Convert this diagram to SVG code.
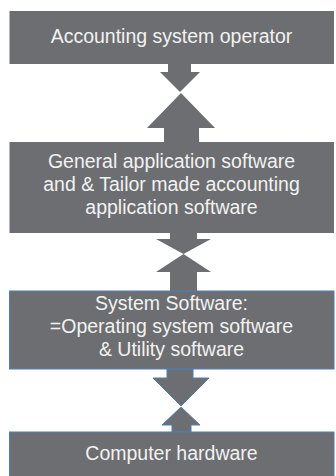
<svg xmlns="http://www.w3.org/2000/svg" width="336" height="476" viewBox="0 0 336 476">
<style>
.box{fill:#6d6e71;}
.bbox{fill:#6d6e71;stroke:#4f7fb5;stroke-width:1;}
.arr{fill:#6d6e71;}
.barr{fill:#6d6e71;stroke:#4f7fb5;stroke-width:1;}
text{font-family:"Liberation Sans",Arial,sans-serif;font-size:19.5px;fill:#f2f2f2;text-anchor:middle;}
</style>
<rect width="336" height="476" fill="#ffffff"/>
<g id="connectors">
<polygon class="arr" points="168,64 191,64 191,72 200,72 180,92 160,72 168,72"/>
<polygon class="arr" points="181,93 215,128 199,128 199,142 164,142 164,128 147,128"/>
<polygon class="arr" points="170,233 197,233 197,239 211,239 183.5,254 156,239 170,239"/>
<polygon class="arr" points="183.5,254 211,272 197,272 197,291 170,291 170,272 156,272"/>
<polygon class="barr" points="167,369 193,369 193,378 209,378 181,406 153,378 167,378"/>
<polygon class="barr" points="181,407 200,425 191,425 191,432 172,432 172,425 162,425"/>
</g>
<g id="n1">
<rect class="box" x="9.5" y="11" width="324.5" height="53"/>
<text x="171.5" y="42.5">Accounting system operator</text>
</g>
<g id="n2">
<rect class="box" x="9.5" y="142" width="324.5" height="91"/>
<text x="171.5" y="167.5">General application software</text>
<text x="171.5" y="190.5">and &amp; Tailor made accounting</text>
<text x="171.5" y="213.5">application software</text>
</g>
<g id="n3">
<rect class="bbox" x="9.5" y="291" width="324.5" height="78"/>
<text x="171.5" y="310">System Software:</text>
<text x="171.5" y="333">=Operating system software</text>
<text x="171.5" y="356">&amp; Utility software</text>
</g>
<g id="n4">
<rect class="bbox" x="9.5" y="432" width="324.5" height="50"/>
<text x="171.5" y="460">Computer hardware</text>
</g>
</svg>
